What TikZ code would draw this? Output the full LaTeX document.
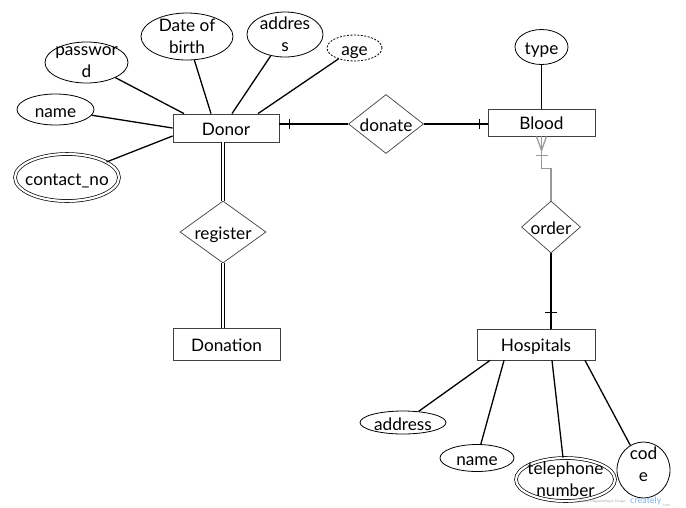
\documentclass[tikz,border=0pt]{standalone}
\usepackage{fontspec}
\setmainfont{Lato}
\usetikzlibrary{shapes.geometric}
\begin{document}
\begin{tikzpicture}[x=1pt,y=-1pt,
  font=\fontsize{17.2}{22}\selectfont,
  ent/.style={draw=black!75, line width=0.8pt, rectangle, inner sep=0pt, text height=14pt, text depth=0pt},
  rel/.style={draw=black!75, line width=0.7pt, diamond, inner sep=0pt},
  attr/.style={draw=black, line width=0.8pt, ellipse, inner sep=0pt},
  conn/.style={draw=black, line width=1.3pt},
  grey/.style={draw=black!40, line width=1.3pt},
  dbl/.style={draw=black, line width=1.1pt, double, double distance=2.6pt},
  lab/.style={label={[text height=15pt, text depth=0pt]center:#1}},
  labb/.style 2 args={label={[align=center, yshift=#2]center:#1}}
]
\useasboundingbox (0,0) rectangle (686,507);

% entities
\node[ent, minimum width=106, minimum height=28] (donor) at (226,128) {Donor};
\node[ent, minimum width=107, minimum height=27] (blood) at (541.5,122.5) {Blood};
\node[ent, minimum width=107, minimum height=32] (donation) at (226.5,344) {Donation};
\node[ent, minimum width=118, minimum height=31] (hosp) at (536,344.5) {Hospitals};

% relationships
\node[rel, minimum width=75, minimum height=59, lab=donate] (donate) at (386,124) {};
\node[rel, minimum width=86, minimum height=62, lab=register] (register) at (223,232) {};
\node[rel, minimum width=59, minimum height=52, lab=order] (order) at (551,227) {};

% donor attributes
\node[attr, minimum width=83, minimum height=41, labb={passwor\\d}{0pt}] (pw) at (86.5,62.5) {};
\node[attr, minimum width=92, minimum height=47, labb={Date of\\birth}{0pt}] (dob) at (187,36.5) {};
\node[attr, minimum width=76, minimum height=45, labb={addres\\s}{0pt}] (addr) at (285,34.5) {};
\node[attr, dashed, dash pattern=on 2pt off 1.5pt, minimum width=55, minimum height=26, lab=age] (age) at (354.5,48) {};
\node[attr, minimum width=77, minimum height=31, lab=name] (dname) at (55.5,109.5) {};
\node[attr, double, double distance=2.2pt, line width=0.7pt, minimum width=104, minimum height=47, lab=contact\_no] (contact) at (67,177.5) {};

% blood attribute
\node[attr, minimum width=53, minimum height=35, lab=type] (type) at (541.5,47) {};

% hospital attributes
\node[attr, minimum width=86, minimum height=23, lab=address] (haddr) at (403,422.5) {};
\node[attr, minimum width=74, minimum height=27, lab=name] (hname) at (477,458) {};
\node[attr, double, double distance=2.2pt, line width=0.7pt, minimum width=99, minimum height=43, labb={telephone\\number}{0pt}] (tel) at (565.5,479.5) {};
\node[attr, minimum width=53, minimum height=56, labb={cod\\e}{6pt}] (code) at (643.5,470) {};

% donor attribute connectors
\draw[conn] (pw) -- ([xshift=-42]donor.north);
\draw[conn] (dob) -- ([xshift=-15]donor.north);
\draw[conn] (addr) -- ([xshift=6]donor.north);
\draw[conn] (age) -- ([xshift=32]donor.north);
\draw[conn] (dname) -- (donor.west);
\draw[conn] (contact) -- ([yshift=-8]donor.west);

% donate
\draw[conn] (donor.east |- donate.west) -- (donate.west);
\draw[conn] (donate.east) -- (donate.east -| blood.west);
\draw[conn] ([xshift=10]donor.east |- donate.west) ++(0,-5) -- ++(0,10);
\draw[conn] ([xshift=-8]blood.west |- donate.east) ++(0,-5) -- ++(0,10);

% register
\draw[dbl] (register.north |- donor.south) -- (register.north);
\draw[dbl] (register.south) -- (register.south |- donation.north);

% type
\draw[conn] (type) -- (blood.north);

% order (grey, one-or-many at blood)
\draw[grey] (blood.south) -- ++(0,32) -| (order.north);
\draw[grey] ([xshift=-5]blood.south) -- ([yshift=-14]blood.south) -- ([xshift=5]blood.south);
\draw[grey] ([xshift=-6,yshift=-19]blood.south) -- ++(12,0);

% order to hospitals
\draw[conn] (order.south) -- (order.south |- hosp.north);
\draw[conn] ([yshift=16]order.south |- hosp.north) ++(-6,0) -- ++(12,0);

% hospital attribute connectors
\draw[conn] (haddr) -- ([xshift=-46]hosp.south);
\draw[conn] (hname) -- ([xshift=-32]hosp.south);
\draw[conn] (tel) -- ([xshift=16]hosp.south);
\draw[conn] (code) -- ([xshift=49]hosp.south);

% watermark
\node[font=\fontsize{3.5}{4}\selectfont, text=black!35, anchor=east] (wm1) at (629,502) {Online Diagramming \& Design};
\node[font=\fontsize{9}{10}\selectfont, text=cyan!60!blue!50, anchor=west, inner sep=0pt] (wm2) at (630,501) {creately};
\node[font=\fontsize{3.5}{4}\selectfont, text=black!35, anchor=west, inner sep=0.5pt] (wm3) at (wm2.south east) {.com};
\end{tikzpicture}
\end{document}
